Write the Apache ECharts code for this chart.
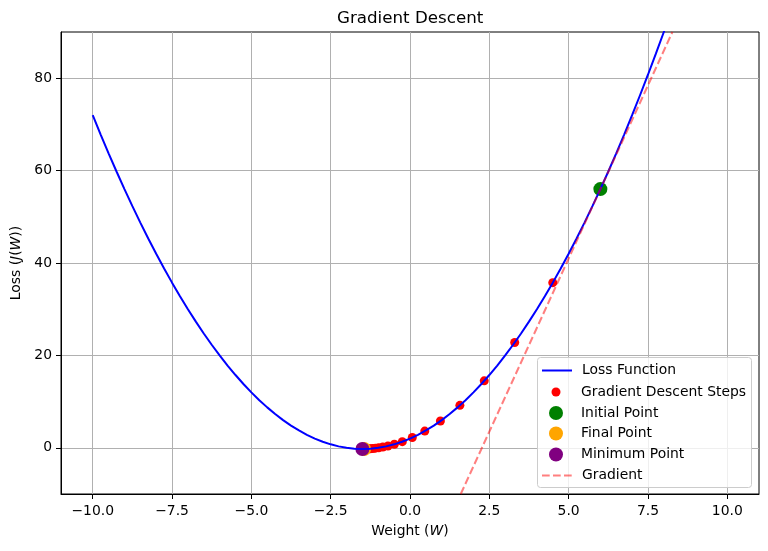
<!DOCTYPE html>
<html><head><meta charset="utf-8">
<script src="https://cdn.jsdelivr.net/npm/echarts@6/dist/echarts.min.js"></script>
<style>html,body{margin:0;padding:0;background:#fff}#c{width:768px;height:551px}</style>
</head><body><div id="c"></div>
<script>
// ---- data ----
const lossW = [-10,-9.75,-9.5,-9.25,-9,-8.75,-8.5,-8.25,-8,-7.75,-7.5,-7.25,-7,-6.75,-6.5,-6.25,-6,-5.75,-5.5,-5.25,-5,-4.75,-4.5,-4.25,-4,-3.75,-3.5,-3.25,-3,-2.75,-2.5,-2.25,-2,-1.75,-1.5,-1.25,-1,-0.75,-0.5,-0.25,0,0.25,0.5,0.75,1,1.25,1.5,1.75,2,2.25,2.5,2.75,3,3.25,3.5,3.75,4,4.25,4.5,4.75,5,5.25,5.5,5.75,6,6.25,6.5,6.75,7,7.25,7.5,7.75,8,8.25,8.5];
const lossJ = [72,67.81,63.75,59.81,56,52.31,48.75,45.31,42,38.81,35.75,32.81,30,27.31,24.75,22.31,20,17.81,15.75,13.81,12,10.31,8.75,7.31,6,4.81,3.75,2.81,2,1.31,0.75,0.31,0,-0.19,-0.25,-0.19,0,0.31,0.75,1.31,2,2.81,3.75,4.81,6,7.31,8.75,10.31,12,13.81,15.75,17.81,20,22.31,24.75,27.31,30,32.81,35.75,38.81,42,45.31,48.75,52.31,56,59.81,63.75,67.81,72,76.31,80.75,85.31,90,94.81,99.75];
const stepW = [6,4.5,3.3,2.34,1.572,0.958,0.466,0.073,-0.242,-0.493,-0.695,-0.856,-0.985,-1.088,-1.170,-1.236,-1.289,-1.331,-1.365,-1.392,-1.414,-1.431,-1.445];
const stepJ = [56,35.75,22.79,14.50,9.19,5.79,3.62,2.22,1.33,0.76,0.40,0.17,0.02,-0.08,-0.14,-0.18,-0.21,-0.22,-0.23,-0.24,-0.24,-0.25,-0.25];
const initialPoint = [6, 56];
const finalPoint = [-1.445, -0.247];
const minimumPoint = [-1.5, -0.25];
const gradientW = [1.6, 8.27];
const gradientJ = [-10, 90];
const xTicks = [-10,-7.5,-5,-2.5,0,2.5,5,7.5,10];
const xTickLabels = ['\u221210.0','\u22127.5','\u22125.0','\u22122.5','0.0','2.5','5.0','7.5','10.0'];
const yTicks = [0,20,40,60,80];
const yTickLabels = ['0','20','40','60','80'];
const seriesNames = ['Loss Function','Gradient Descent Steps','Initial Point','Final Point','Minimum Point','Gradient'];

// ---- chart ----
const FONT = 'DejaVu Sans';
const zip = (a, b) => a.map((v, i) => [v, b[i]]);
const chart = echarts.init(document.getElementById('c'), null, {renderer: 'canvas'});

const legendRows = [
  {name: seriesNames[0], top: 363.5, h: 14, line: true},
  {name: seriesNames[1], top: 385, h: 9},
  {name: seriesNames[2], top: 406, h: 14},
  {name: seriesNames[3], top: 426.5, h: 14},
  {name: seriesNames[4], top: 447.5, h: 14},
  {name: seriesNames[5], top: 468.5, h: 14, line: true}
];
const legends = legendRows.map(r => ({
  data: [r.line
    ? {name: r.name, itemStyle: {color: 'transparent', borderWidth: 0, opacity: 0}}
    : {name: r.name, icon: 'circle'}],
  orient: 'vertical', left: r.line ? 541 : 541 + (30 - r.h) / 2, top: r.top,
  itemWidth: 30, itemHeight: r.h, itemGap: 0, padding: 0, selectedMode: false, z: 10,
  textStyle: {fontSize: 13.9, color: '#000', fontFamily: FONT, padding: [0, 0, 0, 5]}
}));

const option = {
  animation: false,
  backgroundColor: '#fff',
  title: {text: 'Gradient Descent', left: 332, top: 5,
    textStyle: {fontSize: 16.7, fontWeight: 'normal', color: '#000', fontFamily: FONT}},
  grid: {left: 61, right: 9, top: 32, bottom: 57, show: true, borderColor: '#000', borderWidth: 1, backgroundColor: 'transparent'},
  legend: legends,
  graphic: [{type: 'rect', left: 537, top: 357, z: 5,
    shape: {width: 214, height: 130, r: 3},
    style: {fill: 'rgba(255,255,255,0.8)', stroke: '#cccccc', lineWidth: 1}}],
  xAxis: {
    type: 'value', min: -11, max: 11,
    name: '{n|Weight (}{i|W}{n|)}', nameLocation: 'middle', nameGap: 30,
    nameTextStyle: {rich: {n: {fontSize: 13.9, color: '#000', fontFamily: FONT}, i: {fontSize: 13.9, color: '#000', fontFamily: FONT, fontStyle: 'italic'}}},
    axisLine: {show: true, onZero: false, lineStyle: {color: '#000', width: 1}},
    axisTick: {show: true, length: 5, customValues: xTicks, lineStyle: {color: '#000'}},
    axisLabel: {customValues: xTicks, margin: 10, color: '#000', fontSize: 13.9, fontFamily: FONT,
      formatter: v => xTickLabels[xTicks.indexOf(v)]},
    splitLine: {show: true, customValues: xTicks, lineStyle: {color: '#b0b0b0', width: 1}}
  },
  yAxis: {
    type: 'value', min: -10, max: 90,
    name: '{n|Loss (}{i|J}{n|(}{i|W}{n|))}', nameLocation: 'middle', nameGap: 33,
    nameTextStyle: {rich: {n: {fontSize: 13.9, color: '#000', fontFamily: FONT}, i: {fontSize: 13.9, color: '#000', fontFamily: FONT, fontStyle: 'italic'}}},
    axisLine: {show: true, onZero: false, lineStyle: {color: '#000', width: 1}},
    axisTick: {show: true, length: 5, customValues: yTicks, lineStyle: {color: '#000'}},
    axisLabel: {customValues: yTicks, margin: 9, color: '#000', fontSize: 13.9, fontFamily: FONT,
      formatter: v => yTickLabels[yTicks.indexOf(v)]},
    splitLine: {show: true, customValues: yTicks, lineStyle: {color: '#b0b0b0', width: 1}}
  },
  series: [
    {name: seriesNames[0], type: 'line', data: zip(lossW, lossJ), symbol: 'none', clip: true, z: 3,
      lineStyle: {color: '#0000ff', width: 2}, itemStyle: {color: '#0000ff'}},
    {name: seriesNames[1], type: 'scatter', data: zip(stepW, stepJ), symbol: 'circle', symbolSize: 9, z: 1,
      itemStyle: {color: '#ff0000', opacity: 1}},
    {name: seriesNames[2], type: 'scatter', data: [initialPoint], symbol: 'circle', symbolSize: 14, z: 1,
      itemStyle: {color: '#008000', opacity: 1}},
    {name: seriesNames[3], type: 'scatter', data: [finalPoint], symbol: 'circle', symbolSize: 14, z: 1,
      itemStyle: {color: '#ffa500', opacity: 1}},
    {name: seriesNames[4], type: 'scatter', data: [minimumPoint], symbol: 'circle', symbolSize: 14, z: 1,
      itemStyle: {color: '#800080', opacity: 1}},
    {name: seriesNames[5], type: 'line', data: zip(gradientW, gradientJ), symbol: 'none', clip: true, z: 3,
      lineStyle: {color: 'rgba(255,0,0,0.5)', width: 2, type: [7.7, 3.3]}, itemStyle: {color: 'rgba(255,0,0,0.5)'}}
  ]
};
chart.setOption(option);
</script>
</body></html>
